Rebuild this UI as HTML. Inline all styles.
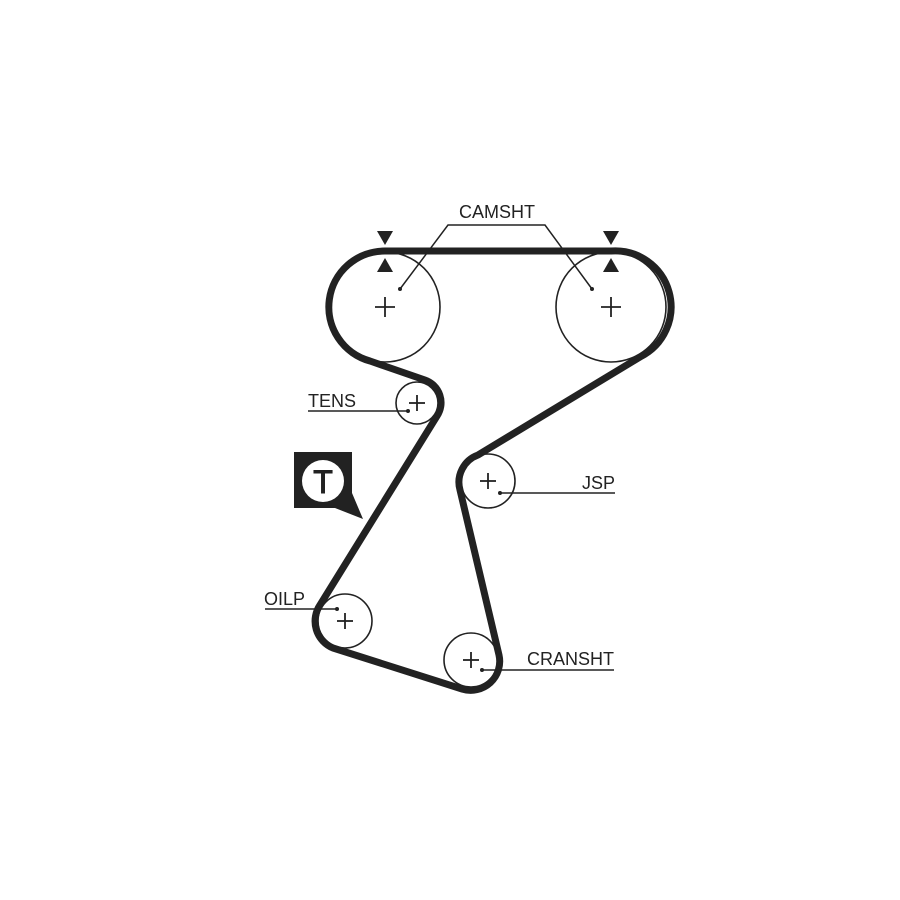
<!DOCTYPE html>
<html><head><meta charset="utf-8"><style>
html,body{margin:0;padding:0;background:#fff}
svg{display:block}
text{font-family:"Liberation Sans",Arial,sans-serif;fill:#222}
</style></head><body>
<svg width="900" height="900" viewBox="0 0 900 900" xmlns="http://www.w3.org/2000/svg">
<rect width="900" height="900" fill="#fff"/>
<g fill="none" stroke="#222" stroke-width="1.6">
<circle cx="385" cy="307" r="55"/>
<circle cx="611" cy="307" r="55"/>
<circle cx="417" cy="403" r="21"/>
<circle cx="488" cy="481" r="27"/>
<circle cx="345" cy="621" r="27"/>
<circle cx="471" cy="660" r="27"/>
</g>
<path d="M385,251 L611,251 A56,56 0 0 1 640,357 L478,455 A29,29 0 0 0 460,490 L499,655 A29,29 0 0 1 462,689 L333,648 A29,29 0 0 1 320,605 L437,416 A24,24 0 0 0 425,380 L370,361 A56,56 0 0 1 385,251 Z" fill="none" stroke="#222" stroke-width="7" stroke-linejoin="round"/>
<g stroke="#222" stroke-width="1.8">
<line x1="375" y1="307" x2="395" y2="307"/><line x1="385" y1="297" x2="385" y2="317"/>
<line x1="601" y1="307" x2="621" y2="307"/><line x1="611" y1="297" x2="611" y2="317"/>
<line x1="409" y1="403" x2="425" y2="403"/><line x1="417" y1="395" x2="417" y2="411"/>
<line x1="480" y1="481" x2="496" y2="481"/><line x1="488" y1="473" x2="488" y2="489"/>
<line x1="337" y1="621" x2="353" y2="621"/><line x1="345" y1="613" x2="345" y2="629"/>
<line x1="463" y1="660" x2="479" y2="660"/><line x1="471" y1="652" x2="471" y2="668"/>
</g>
<g stroke="#222" stroke-width="1.5" fill="none">
<polyline points="400,289 448,225 545,225 592,289"/>
<line x1="308" y1="411" x2="408" y2="411"/>
<line x1="500" y1="493" x2="615" y2="493"/>
<line x1="265" y1="609" x2="337" y2="609"/>
<line x1="482" y1="670" x2="614" y2="670"/>
</g>
<g fill="#222">
<circle cx="400" cy="289" r="2"/><circle cx="592" cy="289" r="2"/>
<circle cx="408" cy="411" r="2"/><circle cx="500" cy="493" r="2"/>
<circle cx="337" cy="609" r="2"/><circle cx="482" cy="670" r="2"/>
<polygon points="377,231 393,231 385,245"/><polygon points="377,272 393,272 385,258"/>
<polygon points="603,231 619,231 611,245"/><polygon points="603,272 619,272 611,258"/>
<rect x="294" y="452" width="58" height="56"/>
<polygon points="335,508 352,493 363,519"/>
</g>
<circle cx="323" cy="481" r="21" fill="#fff"/>
<text x="323" y="493" font-size="32" text-anchor="middle" style="fill:#222;stroke:#222;stroke-width:1">T</text>
<text x="497" y="218" font-size="18" text-anchor="middle">CAMSHT</text>
<text x="308" y="407" font-size="18">TENS</text>
<text x="615" y="489" font-size="18" text-anchor="end">JSP</text>
<text x="264" y="605" font-size="18">OILP</text>
<text x="614" y="665" font-size="18" text-anchor="end">CRANSHT</text>
</svg>
</body></html>
